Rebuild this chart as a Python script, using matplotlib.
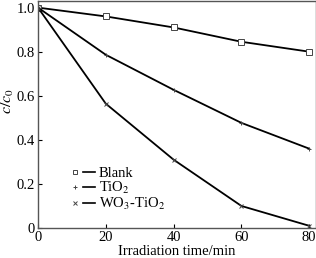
import matplotlib
matplotlib.use("Agg")
from matplotlib import pyplot as plt
from matplotlib.lines import Line2D
from matplotlib.legend_handler import HandlerTuple

plt.rcParams["font.family"] = ["Liberation Serif", "DejaVu Serif"]
plt.rcParams["mathtext.fontset"] = "stix"

time_min = [0, 20, 40, 60, 80]
blank = [1.0, 0.96, 0.91, 0.845, 0.80]
tio2 = [1.0, 0.786, 0.627, 0.477, 0.36]
wo3_tio2 = [1.0, 0.564, 0.31, 0.10, 0.01]

series = [
    (blank, "s", "Blank"),
    (tio2, "+", r"TiO$_2$"),
    (wo3_tio2, "x", r"WO$_3$-TiO$_2$"),
]

fig = plt.figure(figsize=(3.16, 2.58), dpi=100)
ax = fig.add_axes([38 / 316, 30 / 258, 278 / 316, 227 / 258])

handles = []
for values, marker, label in series:
    ax.plot(time_min, values, color="black", linewidth=1.3, marker=marker,
            markersize=4 if marker == "s" else 3.5, markerfacecolor="white",
            markeredgecolor="#444444", markeredgewidth=0.7)
    mk = Line2D([], [], linestyle="none", marker=marker, markersize=3,
                markerfacecolor="white", markeredgecolor="#444444", markeredgewidth=0.7)
    ln = Line2D([], [], color="black", linewidth=1.2)
    handles.append(((mk, ln), label))

ax.set_xlim(0, 82)
ax.set_ylim(0, 1.03)
ax.set_xticks([0, 20, 40, 60, 80])
ax.set_yticks([0, 0.2, 0.4, 0.6, 0.8, 1.0])
ax.set_yticklabels(["0", "0.2", "0.4", "0.6", "0.8", "1.0"])
ax.tick_params(direction="in", length=3, pad=2, labelsize=10.5, top=False, right=False, colors="black")
for side in ax.spines.values():
    side.set_color("#555555")
    side.set_linewidth(1.0)

ax.set_xlabel("Irradiation time/min", fontsize=10.5, labelpad=1)
ax.set_ylabel(r"$c/c_0$", fontsize=11.5)
ax.yaxis.set_label_coords(-0.08, 0.56)

ax.legend([h for h, _ in handles], [l for _, l in handles],
          handler_map={tuple: HandlerTuple(ndivide=2, pad=0.15)},
          loc="lower left", bbox_to_anchor=(0.075, 0.025), frameon=False,
          fontsize=10.5, handlelength=1.8, handletextpad=0.25, labelspacing=0.0,
          borderpad=0.2)

fig.savefig("out.png", dpi=100)
